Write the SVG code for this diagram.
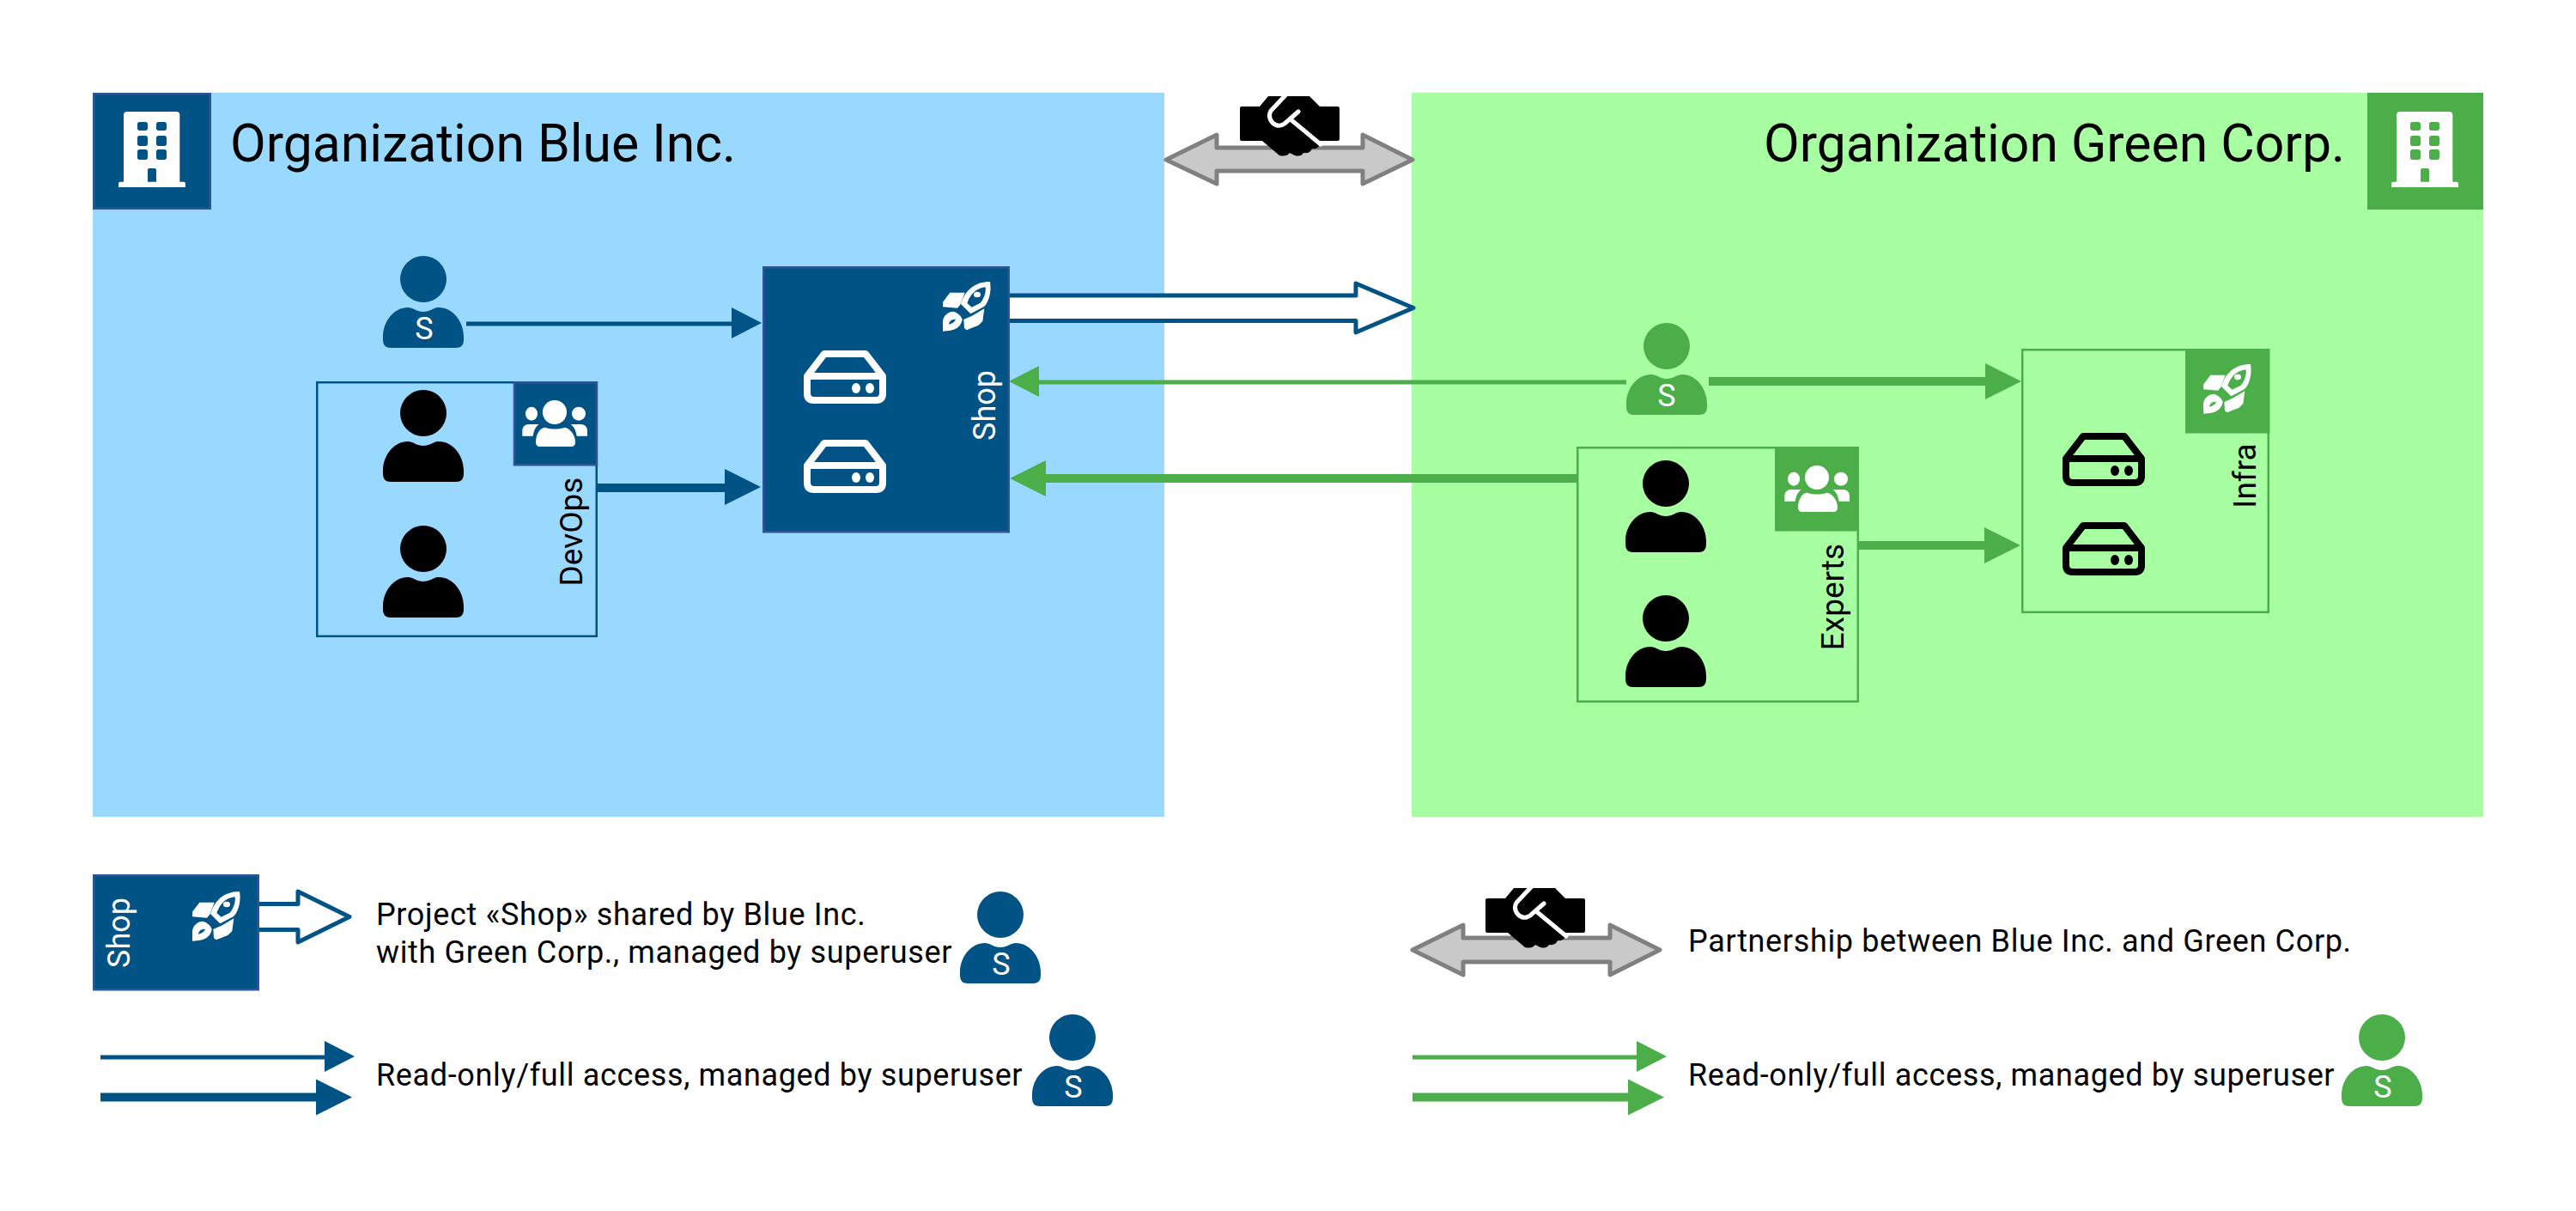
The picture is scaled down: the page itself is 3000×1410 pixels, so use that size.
<svg xmlns="http://www.w3.org/2000/svg" xmlns:xlink="http://www.w3.org/1999/xlink" width="3000" height="1410" viewBox="0 0 3000 1410">
<style>
text{font-family:Roboto,"Liberation Sans",sans-serif;fill:#000}
.title{font-size:60.700px}
.lab{font-size:37px}
.shoplab{font-size:36px;fill:#fff}
.leg{font-size:36px;letter-spacing:.65px}
.sl{font-size:36px;fill:#fff;text-anchor:middle}
.bl{color:#005384}
.gr{color:#4bae49}
.bk{color:#000}
.wh{color:#fff}
.bb{fill:#005384;stroke:#2f5597;stroke-width:2.500}
.gb{fill:#4bae49;stroke:#4bae49;stroke-width:2.500}
.thinb{stroke:#005384;stroke-width:5;fill:none}
.thickb{stroke:#005384;stroke-width:10;fill:none}
.thing{stroke:#4bae49;stroke-width:5;fill:none}
.thickg{stroke:#4bae49;stroke-width:10;fill:none}
.hb{fill:#005384}
.hg{fill:#4bae49}
.share{fill:#fff;stroke:#005384;stroke-width:5;stroke-linejoin:round}
.part{fill:#c9c9c9;stroke:#808080;stroke-width:5;stroke-linejoin:round}
</style>
<defs>
<g id="person" fill="currentColor">
<circle cx="0" cy="27" r="27"/>
<path d="M-47 94C-47 76-34 60-18 60C-12 60-8 65 0 65C8 65 12 60 18 60C34 60 47 76 47 94V98Q47 107 38 107H-38Q-47 107-47 98Z"/>
</g>
<g id="server" fill="none" stroke="currentColor" stroke-width="8" stroke-linejoin="round">
<path d="M4 30L24 4H72L92 30V50Q92 58 84 58H12Q4 58 4 50Z"/>
<path d="M4 30H92"/>
<ellipse cx="61" cy="44" rx="5" ry="6" fill="currentColor" stroke="none"/>
<ellipse cx="77" cy="44" rx="5" ry="6" fill="currentColor" stroke="none"/>
</g>
<g id="rocket" fill="#fff" fill-rule="evenodd" transform="scale(.3333) translate(-35,-28)">
<path d="M36 98L60 66H112L96 108L86 120L35 116Z"/>
<path d="M200 28C206 60 196 102 178 116L132 140L98 106C114 54 150 28 200 28ZM184 47C158 49 133 66 120 103L136 117L166 102C177 90 187 67 184 47Z"/>
<ellipse cx="155" cy="73" rx="12" ry="10"/>
<path d="M180 122L174 166L160 180L118 197L110 190L108 160L137 147Z"/>
<path d="M35 201V165C38 145 55 132 72 132C88 137 100 148 103 160C100 182 84 192 68 197C55 200 45 201 35 201ZM56 177C57 167 65 158 80 159C76 169 69 174 56 177Z"/>
</g>
<g id="team" fill="#fff" transform="scale(.3333)">
<circle cx="168" cy="120" r="42"/>
<ellipse cx="87" cy="125" rx="21" ry="24"/>
<ellipse cx="252" cy="125" rx="24" ry="24"/>
<path d="M102 225C102 195 118 173 135 173C150 180 185 180 205 173C225 180 240 200 240 225Q240 240 225 240H117Q102 240 102 225Z"/>
<path d="M55 203V185C55 170 65 162 80 162H113C100 172 95 185 92 203Z"/>
<path d="M282 203V185C282 170 272 162 257 162H224C237 172 242 185 245 203Z"/>
</g>
<path id="building" fill="#fff" fill-rule="evenodd" transform="scale(.3333)" d="M162 365V132Q162 120 174 120H346Q358 120 358 132V365H372Q378 365 378 372V384H144V372Q144 365 150 365ZM218 156Q210 156 210 164V178Q210 186 218 186H238Q246 186 246 178V164Q246 156 238 156ZM284 156Q276 156 276 164V178Q276 186 284 186H304Q312 186 312 178V164Q312 156 304 156ZM218 204Q210 204 210 212V232Q210 240 218 240H238Q246 240 246 232V212Q246 204 238 204ZM284 204Q276 204 276 212V232Q276 240 284 240H304Q312 240 312 232V212Q312 204 304 204ZM218 252Q210 252 210 260V280Q210 288 218 288H238Q246 288 246 280V260Q246 252 238 252ZM284 252Q276 252 276 260V280Q276 288 284 288H304Q312 288 312 280V260Q312 252 304 252ZM252 318Q246 318 246 324V365H276V324Q276 318 270 318Z"/>
<g id="hands">
<path fill="#000" d="M2 12H23L33 0H81L93 12H114Q116 12 116 14V50Q116 52 114 52H90L93 55Q92 62 84 61Q82 67 74 66Q71 71 64 69Q60 67 58 66Q54 71 46 69L26 52H2Q0 52 0 50V14Q0 12 2 12Z"/>
<path fill="none" stroke="#fff" stroke-width="5" stroke-linecap="round" d="M53 -1L36 17Q32 24 38 31Q45 37 52 32L68 18M59 27L94 56"/>
</g>
<polygon id="h35" points="0,-18 35,0 0,18"/>
<polygon id="h42" points="0,-21 42,0 0,21"/>
</defs>

<g id="org-blue">
<rect x="108" y="108" width="1248" height="843" fill="#99d9ff"/>
<rect x="109.250" y="109.250" width="135.500" height="133.500" class="bb"/>
<use xlink:href="#building" href="#building" transform="translate(90,90)"/>
<text class="title" x="268" y="188">Organization Blue Inc.</text>
</g>
<g id="org-green">
<rect x="1644" y="108" width="1248" height="843" fill="#a7ffa2"/>
<rect x="2758.250" y="109.250" width="132.500" height="133.500" class="gb"/>
<use xlink:href="#building" href="#building" transform="translate(2737,90)"/>
<text class="title" x="2731" y="188" text-anchor="end">Organization Green Corp.</text>
</g>

<g id="connectors">
<path class="share" d="M1176 344H1579V330L1646 358.500L1579 387V373.500H1176"/>
<g id="partnership-arrow"><path class="part" d="M1358 186L1417 157V172H1587V157L1645 186L1587 214V199H1417V214Z"/></g>
<path class="thinb" d="M543 377H855"/><use xlink:href="#h35" href="#h35" class="hb" transform="translate(852,376)"/>
<path class="thickb" d="M694 568H846"/><use xlink:href="#h42" href="#h42" class="hb" transform="translate(844,567)"/>
<path class="thing" d="M1205 445H1894"/><use xlink:href="#h35" href="#h35" class="hg" transform="translate(1210,444) scale(-1,1)"/>
<path class="thickg" d="M1215 557H1837"/><use xlink:href="#h42" href="#h42" class="hg" transform="translate(1218,557) scale(-1,1)"/>
<path class="thickg" d="M1990 444H2315"/><use xlink:href="#h42" href="#h42" class="hg" transform="translate(2312,444)"/>
<path class="thickg" d="M2164 635H2314"/><use xlink:href="#h42" href="#h42" class="hg" transform="translate(2311,635)"/>
</g>

<g id="blue-superuser" class="bl"><use xlink:href="#person" href="#person" transform="translate(493,298)"/><text class="sl" x="494" y="395">S</text></g>
<g id="devops">
<rect x="369.250" y="445.250" width="325.500" height="295.500" fill="none" stroke="#005384" stroke-width="2.500"/>
<rect x="599" y="445.250" width="96" height="96" class="bb"/>
<use xlink:href="#team" href="#team" transform="translate(590,440)"/>
<g class="bk"><use xlink:href="#person" href="#person" transform="translate(493,454)"/><use xlink:href="#person" href="#person" transform="translate(493,612)"/></g>
<text class="lab" transform="translate(678,619) rotate(-90)" text-anchor="middle">DevOps</text>
</g>
<g id="shop">
<rect x="889.250" y="311.250" width="285.500" height="308" class="bb"/>
<g class="wh"><use xlink:href="#server" href="#server" transform="translate(936,408)"/><use xlink:href="#server" href="#server" transform="translate(936,512)"/></g>
<use xlink:href="#rocket" href="#rocket" transform="translate(1098,328)"/>
<text class="shoplab" transform="translate(1159,472) rotate(-90)" text-anchor="middle">Shop</text>
</g>
<g id="green-superuser" class="gr"><use xlink:href="#person" href="#person" transform="translate(1941,376)"/><text class="sl" x="1941" y="473">S</text></g>
<g id="experts">
<rect x="1837.250" y="521.250" width="326.500" height="295.500" fill="none" stroke="#4bae49" stroke-width="2.500"/>
<rect x="2068.250" y="521.250" width="95.500" height="96" class="gb"/>
<use xlink:href="#team" href="#team" transform="translate(2060,516)"/>
<g class="bk"><use xlink:href="#person" href="#person" transform="translate(1940,536)"/><use xlink:href="#person" href="#person" transform="translate(1940,693)"/></g>
<text class="lab" transform="translate(2147,695) rotate(-90)" text-anchor="middle">Experts</text>
</g>
<g id="infra">
<rect x="2355.250" y="407.250" width="286.500" height="305.500" fill="none" stroke="#4bae49" stroke-width="2.500"/>
<rect x="2546.250" y="407.250" width="96" height="96" class="gb"/>
<use xlink:href="#rocket" href="#rocket" transform="translate(2566,424)"/>
<g class="bk"><use xlink:href="#server" href="#server" transform="translate(2402,504)"/><use xlink:href="#server" href="#server" transform="translate(2402,608)"/></g>
<text class="lab" transform="translate(2627,554) rotate(-90)" text-anchor="middle">Infra</text>
</g>
<g id="handshake"><use xlink:href="#hands" href="#hands" transform="translate(1444,112)"/></g>

<g id="legend-share">
<path class="share" d="M302 1052.500H347V1038L407 1067.500L347 1097V1082.500H302"/>
<rect x="109.250" y="1019.250" width="191.500" height="133" class="bb"/>
<use xlink:href="#rocket" href="#rocket" transform="translate(224,1038)"/>
<text class="shoplab" transform="translate(151,1086) rotate(-90)" text-anchor="middle">Shop</text>
<text class="leg" x="438" y="1077">Project «Shop» shared by Blue Inc.</text>
<text class="leg" x="438" y="1121">with Green Corp., managed by superuser</text>
<g class="bl"><use xlink:href="#person" href="#person" transform="translate(1165,1038)"/><text class="sl" x="1166" y="1135">S</text></g>
</g>
<g id="legend-partnership">
<path class="part" d="M1645 1106L1704 1077V1092H1875V1077L1933 1106L1875 1135V1120H1704V1135Z"/>
<use xlink:href="#hands" href="#hands" transform="translate(1730,1034)"/>
<text class="leg" x="1966" y="1108">Partnership between Blue Inc. and Green Corp.</text>
</g>
<g id="legend-blue-access">
<path class="thinb" d="M117 1231H380"/><use xlink:href="#h35" href="#h35" class="hb" transform="translate(378,1230)"/>
<path class="thickb" d="M117 1277.500H370"/><use xlink:href="#h42" href="#h42" class="hb" transform="translate(368,1277.500)"/>
<text class="leg" x="438" y="1264">Read-only/full access, managed by superuser</text>
<g class="bl"><use xlink:href="#person" href="#person" transform="translate(1249,1181)"/><text class="sl" x="1250" y="1278">S</text></g>
</g>
<g id="legend-green-access">
<path class="thing" d="M1645 1231H1908"/><use xlink:href="#h35" href="#h35" class="hg" transform="translate(1906,1230)"/>
<path class="thickg" d="M1645 1277.500H1898"/><use xlink:href="#h42" href="#h42" class="hg" transform="translate(1896,1277.500)"/>
<text class="leg" x="1966" y="1264">Read-only/full access, managed by superuser</text>
<g class="gr"><use xlink:href="#person" href="#person" transform="translate(2774,1181)"/><text class="sl" x="2775" y="1278">S</text></g>
</g>
</svg>
